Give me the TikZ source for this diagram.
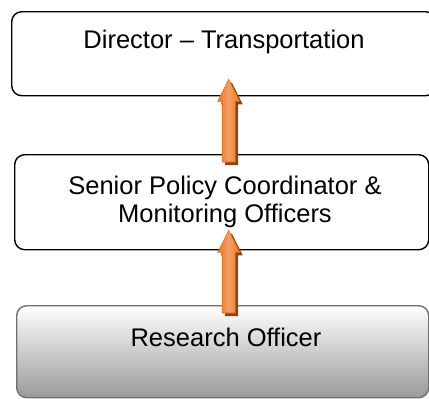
\documentclass[tikz,border=0pt]{standalone}
\usepackage{fontspec}
\setmainfont{Liberation Sans}
\usetikzlibrary{calc}
\definecolor{boxgrayb}{HTML}{999999}
\definecolor{boxedge}{HTML}{707070}
\definecolor{arrdark}{HTML}{EA7A2C}
\definecolor{arrlight}{HTML}{F39D63}
\definecolor{arredge}{HTML}{E06A18}
\definecolor{arrshadow}{HTML}{8A4412}
\tikzset{
  box/.style={draw=black, line width=1.4pt, rounded corners=10pt, fill=white, anchor=north west, inner sep=0pt},
  graybox/.style={draw=boxedge, line width=1.4pt, rounded corners=10pt, top color=white, bottom color=boxgrayb, anchor=north west, inner sep=0pt},
  lbl/.style={font=\fontsize{25.5}{28}\selectfont, align=center, inner sep=0pt},
  arrbody/.style={left color=arrdark, right color=arrdark, middle color=arrlight, draw=arredge, line width=0.6pt},
  arrshade/.style={fill=arrshadow},
}
\newcommand{\blockarrow}[3]{% #1 tip coord, #2 tail coord, #3 style
  \path[#3] let \p1=#1, \p2=#2 in
    (\x1,\y1) -- (\x1+11,\y1-22) -- (\x1+6.5,\y1-22) -- (\x1+6.5,\y2) -- (\x1-6.5,\y2) -- (\x1-6.5,\y1-22) -- (\x1-11,\y1-22) -- cycle;
}
\begin{document}
\begin{tikzpicture}[x=1pt,y=-1pt]
\useasboundingbox (0,0) rectangle (429,399);
\node[box, minimum width=424pt, minimum height=84pt] (b1) at (11,11) {};
\node[box, minimum width=414pt, minimum height=95pt] (b2) at (14,154) {};
\node[graybox, minimum width=412pt, minimum height=92pt] (b3) at (16,305) {};
\node[lbl] (t1) at (224,42) {Director – Transportation};
\node[lbl] (t2) at (225,201.5) {Senior Policy Coordinator \&\\Monitoring Officers};
\node[lbl] (t3) at (226,337) {Research Officer};
% arrows: tip inside upper box, tail inside lower box
\coordinate (a1tip) at ($(b1.south)+(5,-17)$);
\coordinate (a1tail) at ($(b2.north)+(5,8)$);
\coordinate (a2tip) at ($(b2.south)+(7,-20)$);
\coordinate (a2tail) at ($(b3.north)+(7,8)$);
\blockarrow{($(a1tip)+(3,3)$)}{($(a1tail)+(3,3)$)}{arrshade}
\blockarrow{(a1tip)}{(a1tail)}{arrbody}
\blockarrow{($(a2tip)+(3,3)$)}{($(a2tail)+(3,3)$)}{arrshade}
\blockarrow{(a2tip)}{(a2tail)}{arrbody}
\end{tikzpicture}
\end{document}
